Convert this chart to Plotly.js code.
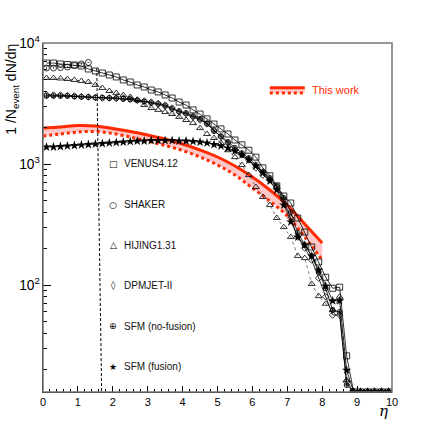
<!DOCTYPE html>
<html>
<head>
<meta charset="utf-8">
<script src="https://cdn.plot.ly/plotly-3.0.1.min.js"></script>
<style>
  body { margin: 0; background: #fff; }
  #plot { width: 436px; height: 436px; }
</style>
</head>
<body>
<div id="plot"></div>
<script>
// pseudorapidity grid of the model curves
const etaModel = [0.1, 0.3, 0.5, 0.7, 0.9, 1.1, 1.3, 1.5, 1.7, 1.9,
  2.1, 2.3, 2.5, 2.7, 2.9, 3.1, 3.3, 3.5, 3.7, 3.9,
  4.1, 4.3, 4.5, 4.7, 4.9, 5.1, 5.3, 5.5, 5.7, 5.9,
  6.1, 6.3, 6.5, 6.7, 6.9, 7.1, 7.3, 7.5, 7.7, 7.9,
  8.1, 8.3, 8.5, 8.7, 8.9, 9.1, 9.3, 9.5, 9.7, 9.9];

const venus = [6830, 6830, 6710, 6640, 6580, 6460, 6100, 5870, 5650, 5440,
  5240, 4950, 4760, 4500, 4330, 4090, 3940, 3720, 3510, 3250,
  3070, 2800, 2590, 2360, 2140, 1950, 1770, 1580, 1440, 1300,
  1140, 930, 800, 660, 544, 476, 358, 274, 206, 155,
  116, 94, 96, 26, 13.1, 13.1, 13.1, 13.1, 13.1, 13.1];

const etaShaker = [0.1, 0.3, 0.5, 0.7, 0.9, 1.1, 1.3];
const shaker = [6210, 6210, 6270, 6330, 6520, 6710, 6900];

const hijing = [5140, 5140, 5090, 5040, 4950, 4850, 4760, 4500, 4250, 4010,
  3860, 3720, 3580, 3380, 3070, 2900, 2800, 2690, 2590, 2450,
  2310, 2180, 1980, 1770, 1640, 1490, 1300, 1140, 980, 810,
  645, 534, 458, 358, 301, 249, 174, 167, 102, 81,
  70, 62, 80, 16.4, 13.1, 13.1, 13.1, 13.1, 13.1, 13.1];

const dpmjet = [3720, 3720, 3720, 3680, 3650, 3610, 3580, 3545, 3510, 3510,
  3480, 3480, 3445, 3380, 3320, 3250, 3160, 3070, 2900, 2690,
  2590, 2450, 2310, 2180, 1910, 1670, 1490, 1300, 1190, 1080,
  930, 810, 737, 645, 500, 358, 249, 202, 161, 114,
  80, 56.5, 56.5, 15.8, 13.1, 13.1, 13.1, 13.1, 13.1, 13.1];

const sfmNoFusion = [3650, 3650, 3650, 3650, 3610, 3580, 3580, 3545, 3545, 3510,
  3510, 3445, 3410, 3350, 3285, 3190, 3130, 3015, 2850, 2740,
  2640, 2490, 2360, 2140, 1870, 1700, 1520, 1360, 1230, 1120,
  980, 860, 766, 658, 524, 401, 269, 214, 174, 128,
  94, 62, 60, 14.9, 13.1, 13.1, 13.1, 13.1, 13.1, 13.1];

const sfmFusion = [1382, 1382, 1395, 1409, 1422, 1436, 1449, 1463, 1477, 1492,
  1506, 1520, 1535, 1549, 1549, 1564, 1564, 1564, 1564, 1549,
  1549, 1535, 1520, 1492, 1449, 1409, 1356, 1281, 1187, 1079,
  963, 843, 724, 610, 458, 332, 249, 214, 174, 133,
  98, 74, 74, 19.8, 13.1, 13.1, 13.1, 13.1, 13.1, 13.1];

// "This work" band
const etaWork = [0, 0.5, 1, 1.5, 2, 2.5, 3, 3.5, 4, 4.5, 5, 5.5, 6, 6.5, 7, 7.5, 8];
const workUpper = [1984, 2022, 2081, 2061, 1965, 1857, 1736, 1609, 1463, 1305, 1143, 963, 781, 610, 458, 319, 222];
const workLower = [1703, 1770, 1839, 1857, 1787, 1671, 1549, 1422, 1293, 1143, 981, 811, 633, 494, 372, 249, 161];

// dashed vertical marker
const cutEta = [1.54, 1.68];
const cutVal = [6200, 13.1];

const legendLabels = ["VENUS4.12", "SHAKER", "HIJING1.31", "DPMJET-II", "SFM (no-fusion)", "SFM (fusion)"];
const legendGlyphs = ["□", "○", "△", "◊", "⊕", "★"];

const red = "#ff2a00";
const pink = "rgba(255,130,130,0.45)";
const lineStyle = { color: "black", width: 0.8 };

function model(x, y, symbol, size, line, mline) {
  return [
    { x: x, y: y, mode: "lines", line: line, hoverinfo: "skip", showlegend: false },
    { x: x, y: y, mode: "markers", showlegend: false,
      marker: { symbol: symbol, size: size, color: "black", line: { color: "black", width: mline } } }
  ];
}

const data = [
  { x: etaWork, y: workLower, mode: "lines", line: { color: red, width: 3, dash: "dot", shape: "spline" }, showlegend: false },
  { x: etaWork, y: workUpper, mode: "lines", fill: "tonexty", fillcolor: pink,
    line: { color: red, width: 3, shape: "spline" }, showlegend: false },
  { x: cutEta, y: cutVal, mode: "lines", line: { color: "black", width: 1, dash: "3px,2px" }, showlegend: false },
  ...model(etaModel, venus, "square-open", 6, lineStyle, 0.8),
  { x: etaShaker, y: shaker, mode: "markers", showlegend: false,
    marker: { symbol: "circle-open-dot", size: 6, color: "black", line: { color: "black", width: 0.8 } } },
  ...model(etaModel, hijing, "triangle-up-open", 6, { color: "#555", width: 0.8, dash: "dot" }, 0.8),
  ...model(etaModel, dpmjet, "diamond-open", 5, lineStyle, 0.8),
  ...model(etaModel, sfmNoFusion, "circle-cross-open", 5, lineStyle, 0.8),
  ...model(etaModel, sfmFusion, "star", 7, lineStyle, 0)
];

const annotations = [];
legendLabels.forEach((lab, i) => {
  const yy = 0.6533 - i * 0.1163;
  annotations.push({ xref: "paper", yref: "paper", x: 0.201, y: yy, xanchor: "center", yanchor: "middle",
    text: legendGlyphs[i], showarrow: false, font: { family: "DejaVu Sans", size: 9, color: "black" } });
  annotations.push({ xref: "paper", yref: "paper", x: 0.226, y: yy, xanchor: "left", yanchor: "middle",
    text: lab, showarrow: false, font: { family: "Liberation Sans, Arial", size: 10, color: "#111" } });
});
annotations.push({ xref: "paper", yref: "paper", x: 0.765, y: 0.864, xanchor: "left", yanchor: "middle",
  text: "This work", showarrow: false, font: { family: "Liberation Sans, Arial", size: 11, color: red } });
annotations.push({ xref: "paper", yref: "paper", x: -0.089, y: 1.005, xanchor: "center", yanchor: "top",
  textangle: -90, text: "1 /N<sub>event</sub> dN/dη", showarrow: false,
  font: { family: "Liberation Sans, Arial", size: 14, color: "black" } });
annotations.push({ xref: "paper", yref: "paper", x: 0.975, y: -0.055, xanchor: "center", yanchor: "middle",
  text: "<i>η</i>", showarrow: false, font: { family: "DejaVu Serif", size: 15, color: "black" } });

const layout = {
  width: 436, height: 436,
  margin: { l: 43, r: 44, t: 43, b: 44 },
  paper_bgcolor: "white", plot_bgcolor: "white",
  showlegend: false,
  font: { family: "Liberation Sans, Arial", size: 11, color: "black" },
  xaxis: {
    range: [0, 10], dtick: 1, showgrid: false, zeroline: false,
    showline: true, linecolor: "black", linewidth: 1,
    ticks: "inside", ticklen: 6, tickcolor: "black",
    minor: { dtick: 0.2, ticks: "inside", ticklen: 3, tickcolor: "black" },
    tickfont: { size: 11 }
  },
  yaxis: {
    type: "log", range: [1.116, 4], dtick: 1, showgrid: false, zeroline: false,
    showline: true, linecolor: "black", linewidth: 1,
    ticks: "inside", ticklen: 8, tickcolor: "black",
    exponentformat: "power",
    minor: { dtick: "D1", ticks: "inside", ticklen: 4, tickcolor: "black" },
    tickfont: { size: 11 }
  },
  shapes: [
    { type: "rect", xref: "paper", yref: "paper", x0: 0, y0: 0, x1: 1, y1: 1,
      line: { color: "#777", width: 1.5 }, layer: "above" },
    { type: "rect", xref: "paper", yref: "paper", x0: 0.65, x1: 0.75, y0: 0.857, y1: 0.872,
      fillcolor: pink, line: { width: 0 } },
    { type: "line", xref: "paper", yref: "paper", x0: 0.65, x1: 0.75, y0: 0.872, y1: 0.872,
      line: { color: red, width: 3 } },
    { type: "line", xref: "paper", yref: "paper", x0: 0.65, x1: 0.75, y0: 0.857, y1: 0.857,
      line: { color: red, width: 3, dash: "dot" } }
  ],
  annotations: annotations
};

Plotly.newPlot("plot", data, layout, { displayModeBar: false, staticPlot: true });
</script>
</body>
</html>
